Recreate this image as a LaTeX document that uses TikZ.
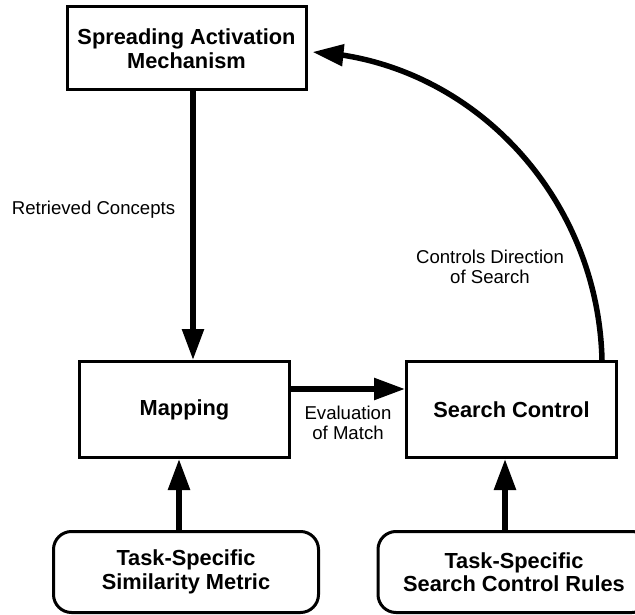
\documentclass[tikz,border=0pt]{standalone}
\usepackage{fontspec}
\setmainfont{Liberation Sans}
\usetikzlibrary{arrows.meta,bending}

\begin{document}
\begin{tikzpicture}[x=1pt,y=-1pt,
  box/.style={draw,line width=3pt,rectangle,align=center,inner sep=0pt,
    font=\fontsize{21.8}{23.5}\selectfont\bfseries},
  softbox/.style={box,rounded corners=18pt},
  lbl/.style={align=center,inner sep=0pt,font=\fontsize{18.6}{20.5}\selectfont},
  flow/.style={line width=5.5pt,-{Triangle[length=31pt,width=21pt]}},
]
\useasboundingbox (0,0) rectangle (635,615);

% main blocks
\node[box,minimum width=239pt,minimum height=83pt] (spread) at (186.5,48.5)
  {Spreading Activation\\Mechanism};
\node[box,minimum width=210pt,minimum height=96pt] (mapping) at (184.5,409.5) {Mapping};
\node[box,minimum width=210pt,minimum height=96pt] (search) at (511.5,409.5) {Search Control};

% task-specific knowledge sources (the right one runs past the page edge)
\node[softbox,minimum width=265pt,minimum height=81pt] (metric) at (186,572)
  {Task-Specific\\Similarity Metric};
\node[softbox,minimum width=272pt,minimum height=81pt] (rules) at (514,572)
  {Task-Specific\\Search Control Rules};

% connector columns and rows
\coordinate (colrc) at (193,0);
\coordinate (colsm) at (179,0);
\coordinate (colsr) at (505,0);
\coordinate (roweval) at (0,389);
\coordinate (colarc) at (602,0);
\coordinate (rowarc) at (0,52);

% connectors
\draw[flow] (spread.south -| colrc) -- (mapping.north -| colrc);
\draw[flow] (mapping.east |- roweval) -- (search.west |- roweval);
\draw[flow] (metric.north -| colsm) -- (mapping.south -| colsm);
\draw[flow] (rules.north -| colsr) -- (search.south -| colsr);
\draw[flow] (search.north -| colarc) .. controls (598,195) and (470,60) ..
  ([xshift=5pt]spread.east |- rowarc);

% connector labels
\node[lbl] (lret) at (93.5,210) {Retrieved Concepts};
\node[lbl] (lctl) at (490,267) {Controls Direction\\of Search};
\node[lbl] (leval) at (348,423) {Evaluation\\of Match};
\end{tikzpicture}
\end{document}
